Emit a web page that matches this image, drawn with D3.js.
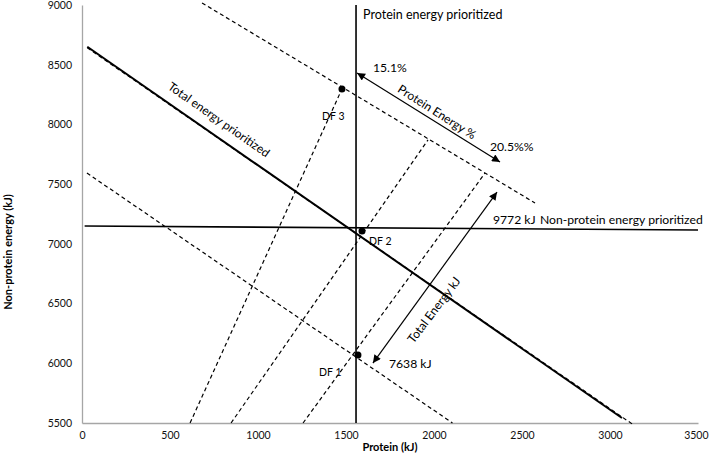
<!DOCTYPE html>
<html>
<head>
<meta charset="utf-8">
<script src="https://cdn.jsdelivr.net/npm/d3@7"></script>
<style>
  html, body { margin: 0; padding: 0; background: #fff; }
  svg { display: block; font-family: Lato, "Open Sans", sans-serif; }
</style>
</head>
<body>
<svg id="chart" width="709" height="463"></svg>
<script>
// ---------- data (kJ) ----------
const xTicks = [0, 500, 1000, 1500, 2000, 2500, 3000, 3500];
const yTicks = [5500, 6000, 6500, 7000, 7500, 8000, 8500, 9000];

// solid reference lines
const totalEnergyPrioritized = [[30, 8650], [3068, 5542]];
const proteinPrioritized = [[1557, 5500], [1557, 9000]];
const nonProteinPrioritized = [[15, 7149], [3500, 7116]];

// dashed iso-total-energy lines
const totalEnergyDashed = [[30, 8642], [3128, 5490]];
const upperTotalEnergy = [[682, 9017], [2574, 7342]];   // 9772 kJ
const lowerTotalEnergy = [[28, 7593], [2105, 5500]];    // 7638 kJ

// dashed protein-energy-% lines
const pctLine1 = [[614, 5500], [1477, 8297]];
const pctLine2 = [[847, 5500], [1966, 7870]];
const pctLine3 = [[1256, 5500], [2290, 7593]];

// diet points
const dfNames = ["DF 1", "DF 2", "DF 3"];
const dfProtein = [1568, 1591, 1477];
const dfNonProtein = [6069, 7108, 8297];
const dfLabelPos = [[1347, 5894], [1631, 6990], [1364, 8037]];

// double arrows
const totalEnergyArrow = [[1653, 6002], [2358, 7434]];
const proteinPctArrow = [[1563, 8431], [2375, 7685]];

// annotation texts
const annotTexts = ["Protein energy prioritized", "15.1%", "20.5%%", "9772 kJ",
  "Non-protein energy prioritized", "7638 kJ"];
const annotPos = [[1597, 8885], [1653, 8439], [2318, 7777], [2335, 7166], [2602, 7166], [1744, 5963]];
const rotTexts = ["Total energy prioritized", "Protein Energy %", "Total Energy kJ"];
const rotPos = [[778, 8040], [2017, 8104], [2000, 6446]];
const rotAngle = [35, 32.5, -53];

// ---------- layout ----------
const svg = d3.select("#chart");
const x = d3.scaleLinear().domain([0, 3500]).range([82, 698]);
const y = d3.scaleLinear().domain([5500, 9000]).range([423, 5]);
const line = d3.line().x(d => x(d[0])).y(d => y(d[1]));

svg.append("rect").attr("width", 709).attr("height", 463).attr("fill", "#fff");

// axes
const gx = svg.append("g").attr("transform", "translate(0,423)")
  .call(d3.axisBottom(x).tickValues(xTicks).tickSize(0).tickPadding(9).tickFormat(d3.format("d")));
const gy = svg.append("g").attr("transform", "translate(82,0)")
  .call(d3.axisLeft(y).tickValues(yTicks).tickSize(0).tickPadding(10).tickFormat(d3.format("d")));
[gx, gy].forEach(g => {
  g.select(".domain").attr("stroke", "#a6a6a6").attr("stroke-width", 1.3);
  g.selectAll("text").attr("font-family", "Lato, sans-serif").attr("font-size", 10.5).attr("fill", "#111");
});
// keep last x tick label inside the frame
gx.selectAll(".tick").filter(d => d === xTicks[xTicks.length - 1]).select("text")
  .attr("text-anchor", "end").attr("dx", 10);

svg.append("text").attr("x", 390).attr("y", 451).attr("text-anchor", "middle")
  .attr("font-size", 11).attr("font-weight", "bold").text("Protein (kJ)");
svg.append("text").attr("transform", "translate(12,252) rotate(-90)").attr("text-anchor", "middle")
  .attr("font-size", 11).attr("font-weight", "bold").text("Non-protein energy (kJ)");

// markers
const defs = svg.append("defs");
["start", "end"].forEach(k => {
  defs.append("marker").attr("id", "arr-" + k)
    .attr("viewBox", "0 0 10 10").attr("refX", k === "end" ? 10 : 0).attr("refY", 5)
    .attr("markerWidth", 10).attr("markerHeight", 8).attr("markerUnits", "userSpaceOnUse")
    .attr("orient", "auto")
    .append("path")
    .attr("d", k === "end" ? "M0,0 L10,5 L0,10 Z" : "M10,0 L0,5 L10,10 Z")
    .attr("fill", "#000");
});

// dashed lines
[totalEnergyDashed, upperTotalEnergy, lowerTotalEnergy, pctLine1, pctLine2, pctLine3].forEach(d => {
  svg.append("path").datum(d).attr("d", line).attr("fill", "none")
    .attr("stroke", "#000").attr("stroke-width", 1.2).attr("stroke-dasharray", "4,3");
});

// solid lines
svg.append("path").datum(totalEnergyPrioritized).attr("d", line).attr("fill", "none")
  .attr("stroke", "#000").attr("stroke-width", 2);
[proteinPrioritized, nonProteinPrioritized].forEach(d => {
  svg.append("path").datum(d).attr("d", line).attr("fill", "none")
    .attr("stroke", "#000").attr("stroke-width", 1.6);
});

// arrows
[totalEnergyArrow, proteinPctArrow].forEach(d => {
  svg.append("path").datum(d).attr("d", line).attr("fill", "none")
    .attr("stroke", "#000").attr("stroke-width", 1.2)
    .attr("marker-start", "url(#arr-start)").attr("marker-end", "url(#arr-end)");
});

// points
svg.selectAll("circle.df").data(dfNames).join("circle").attr("class", "df")
  .attr("cx", (d, i) => x(dfProtein[i])).attr("cy", (d, i) => y(dfNonProtein[i]))
  .attr("r", 3.5).attr("fill", "#000");
svg.selectAll("text.dfl").data(dfNames).join("text").attr("class", "dfl")
  .attr("x", (d, i) => x(dfLabelPos[i][0])).attr("y", (d, i) => y(dfLabelPos[i][1]))
  .attr("font-size", 10.5).attr("fill", "#000").text(d => d);

// annotations
svg.selectAll("text.ann").data(annotTexts).join("text").attr("class", "ann")
  .attr("x", (d, i) => x(annotPos[i][0])).attr("y", (d, i) => y(annotPos[i][1]))
  .attr("font-size", (d, i) => i === 0 ? 12.5 : 12.2).attr("fill", "#000")
  .text(d => d);

svg.selectAll("text.rot").data(rotTexts).join("text").attr("class", "rot")
  .attr("transform", (d, i) => `translate(${x(rotPos[i][0])},${y(rotPos[i][1])}) rotate(${rotAngle[i]})`)
  .attr("text-anchor", "middle").attr("dy", "0.35em")
  .attr("font-size", 12).attr("fill", "#000").text(d => d);
</script>
</body>
</html>
